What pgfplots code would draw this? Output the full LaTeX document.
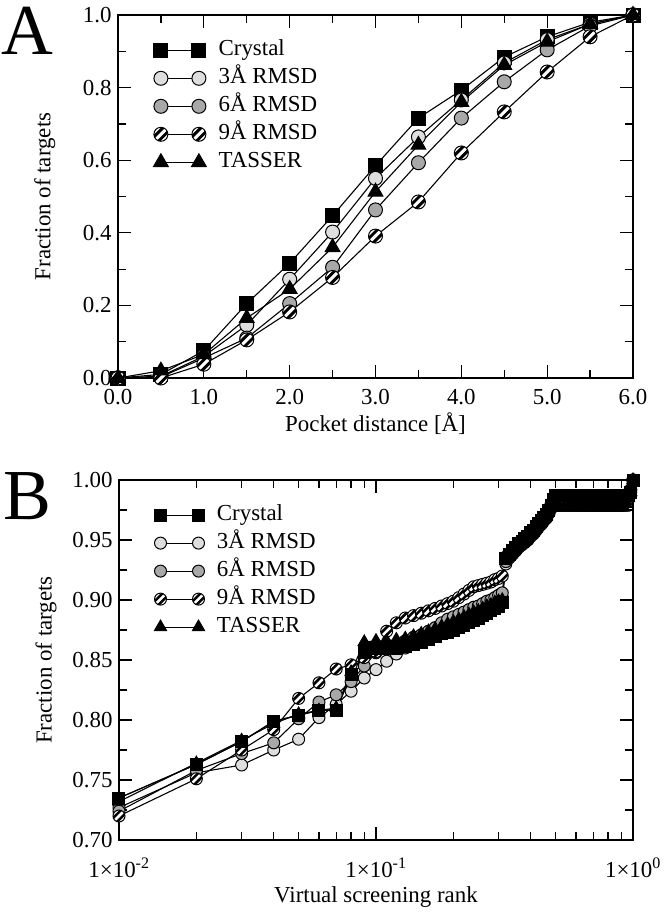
\documentclass[border=0pt]{standalone}
\usepackage{fontspec}
\setmainfont{Liberation Serif}
\usepackage{pgfplots}
\pgfplotsset{compat=1.18}
\usepackage{pgfplotstable}

\pgfdeclareplotmark{hatchcirc}{%
  \begin{pgfscope}%
  \pgfpathcircle{\pgfpointorigin}{\pgfplotmarksize}%
  \pgfsetfillcolor{white}\pgfusepathqfill
  \end{pgfscope}%
  \begin{pgfscope}%
    \pgfpathcircle{\pgfpointorigin}{\pgfplotmarksize}\pgfusepathqclip
    \pgfsetlinewidth{0.42\pgfplotmarksize}%
    \pgfsetbuttcap
    \pgfpathmoveto{\pgfpoint{-1.318\pgfplotmarksize}{-0.682\pgfplotmarksize}}%
    \pgfpathlineto{\pgfpoint{0.682\pgfplotmarksize}{1.318\pgfplotmarksize}}%
    \pgfpathmoveto{\pgfpoint{-0.682\pgfplotmarksize}{-1.318\pgfplotmarksize}}%
    \pgfpathlineto{\pgfpoint{1.318\pgfplotmarksize}{0.682\pgfplotmarksize}}%
    \pgfusepathqstroke
  \end{pgfscope}%
  \pgfpathcircle{\pgfpointorigin}{\pgfplotmarksize}\pgfusepathqstroke
}

\pgfplotstableread{
x C R3 R6 R9 T
0.0 0 0 0 0 0
0.5 0.01 0.005 0.003 0.0 0.02
1.0 0.075 0.06 0.055 0.038 0.065
1.5 0.205 0.146 0.11 0.105 0.165
2.0 0.316 0.272 0.205 0.182 0.245
2.5 0.447 0.402 0.305 0.277 0.36
3.0 0.585 0.55 0.463 0.391 0.513
3.5 0.716 0.664 0.593 0.485 0.642
4.0 0.793 0.766 0.716 0.62 0.76
4.5 0.884 0.868 0.816 0.733 0.862
5.0 0.94 0.932 0.904 0.843 0.926
5.5 0.98 0.975 0.97 0.94 0.975
6.0 1 1 1 1 1
}\dataA

\pgfplotstableread{
x C R3 R6 R9 T
0.01 0.735 0.727 0.724 0.720 0.732
0.02 0.763 0.756 0.758 0.751 0.764
0.03 0.782 0.7625 0.772 0.775 0.783
0.04 0.799 0.775 0.781 0.792 0.797
0.05 0.804 0.784 0.801 0.818 0.805
0.06 0.808 0.802 0.815 0.831 0.808
0.07 0.808 0.813 0.821 0.8425 0.810
0.08 0.838 0.824 0.832 0.846 0.840
0.09 0.856 0.835 0.845 0.852 0.865
0.10 0.860 0.842 0.856 0.857 0.866
0.11 0.860 0.849 0.860 0.874 0.866
0.12 0.860 0.855 0.863 0.881 0.867
0.13 0.861 0.860 0.866 0.885 0.868
0.14 0.863 0.864 0.869 0.887 0.870
0.15 0.865 0.866 0.871 0.889 0.872
0.16 0.867 0.868 0.874 0.891 0.874
0.17 0.870 0.870 0.877 0.893 0.876
0.18 0.872 0.872 0.881 0.895 0.878
0.19 0.873 0.873 0.884 0.897 0.880
0.20 0.875 0.876 0.886 0.899 0.882
0.21 0.877 0.878 0.888 0.902 0.884
0.22 0.879 0.881 0.890 0.905 0.886
0.23 0.881 0.884 0.892 0.908 0.888
0.24 0.883 0.887 0.894 0.911 0.890
0.25 0.885 0.889 0.895 0.912 0.891
0.26 0.887 0.891 0.897 0.913 0.893
0.27 0.889 0.893 0.899 0.914 0.895
0.28 0.891 0.895 0.900 0.915 0.896
0.29 0.893 0.897 0.902 0.917 0.898
0.30 0.895 0.899 0.904 0.918 0.899
0.31 0.898 0.902 0.906 0.920 0.900
0.32 0.935 0.930 0.932 0.936 0.934
0.33 0.938 0.935 0.936 0.939 0.937
0.34 0.941 0.938 0.939 0.942 0.940
0.35 0.944 0.941 0.942 0.945 0.943
0.36 0.947 0.944 0.945 0.948 0.946
0.37 0.949 0.946 0.947 0.950 0.948
0.38 0.951 0.948 0.949 0.952 0.950
0.39 0.953 0.950 0.951 0.954 0.952
0.40 0.956 0.953 0.954 0.957 0.955
0.41 0.958 0.955 0.956 0.959 0.957
0.42 0.961 0.958 0.959 0.962 0.960
0.43 0.964 0.961 0.962 0.965 0.963
0.44 0.966 0.963 0.964 0.967 0.965
0.45 0.969 0.966 0.967 0.970 0.968
0.46 0.971 0.968 0.969 0.972 0.970
0.47 0.975 0.972 0.973 0.976 0.974
0.48 0.979 0.976 0.977 0.980 0.977
0.49 0.984 0.980 0.981 0.984 0.977
0.50 0.9875 0.984 0.982 0.985 0.977
0.52 0.9875 0.984 0.981 0.983 0.977
0.54 0.9875 0.984 0.981 0.983 0.977
0.56 0.9875 0.984 0.981 0.983 0.977
0.58 0.9875 0.984 0.981 0.983 0.977
0.60 0.9875 0.984 0.981 0.983 0.977
0.62 0.9875 0.984 0.981 0.983 0.977
0.64 0.9875 0.984 0.981 0.983 0.977
0.66 0.9875 0.984 0.981 0.983 0.977
0.68 0.9875 0.984 0.981 0.983 0.977
0.70 0.9875 0.984 0.981 0.983 0.977
0.72 0.9875 0.984 0.981 0.983 0.977
0.74 0.9875 0.984 0.981 0.983 0.977
0.76 0.9875 0.984 0.981 0.983 0.977
0.78 0.9875 0.984 0.981 0.983 0.977
0.80 0.9875 0.984 0.981 0.983 0.977
0.82 0.9875 0.984 0.981 0.983 0.977
0.84 0.9875 0.984 0.981 0.983 0.977
0.86 0.9875 0.984 0.981 0.983 0.977
0.88 0.9875 0.984 0.981 0.983 0.977
0.90 0.9875 0.984 0.981 0.983 0.977
0.92 0.9875 0.984 0.980 0.983 0.977
0.94 0.9875 0.986 0.982 0.985 0.980
0.96 0.9875 0.989 0.985 0.988 0.985
0.98 0.990 0.992 0.990 0.992 0.990
1.00 1 1 1 1 1
}\dataB

\definecolor{lightg}{gray}{0.87}
\definecolor{midg}{gray}{0.66}

\pgfplotsset{
  myaxis/.style={
    scale only axis, clip=false,
    axis line style={line width=1.4bp},
    every tick/.style={black, line width=1.2bp},
    major tick length=13bp, minor tick length=8bp,
    tick align=inside,
    font=\fontsize{23}{27}\selectfont,
    tick label style={font=\fontsize{23}{27}\selectfont},
    label style={font=\fontsize{23}{27}\selectfont},
    /pgf/number format/assume math mode=true,
    legend cell align=left,
    legend image code/.code={\draw[##1] plot coordinates {(0bp,0bp) (38bp,0bp)};},
    legend style={draw=none, fill=none, inner sep=0pt, row sep=5bp,
      font=\fontsize{23}{27}\selectfont,
      nodes={inner sep=1.5bp, text height=15bp, text depth=5bp},
      /tikz/every odd column/.append style={column sep=9bp}},
  },
  sC/.style={black, line width=1.1bp, mark=square*, mark options={fill=black, solid, line width=1bp}},
  s3/.style={black, line width=1.1bp, mark=*, mark options={fill=lightg, solid, line width=1bp}},
  s6/.style={black, line width=1.1bp, mark=*, mark options={fill=midg, solid, line width=1bp}},
  s9/.style={black, line width=1.1bp, mark=hatchcirc, mark options={solid, line width=1bp}},
  sT/.style={black, line width=1.1bp, mark=triangle*, mark options={fill=black, solid, line width=1bp}},
}

\begin{document}
\begin{tikzpicture}
\path[use as bounding box] (0,0) rectangle (666bp,-912bp);

\node[font=\fontsize{72}{72}\selectfont, anchor=center] at (27bp,-31bp) {A};
\node[font=\fontsize{72}{72}\selectfont, anchor=center] at (27bp,-496bp) {B};

\begin{axis}[myaxis,
  at={(118bp,-378bp)}, anchor=south west,
  width=515bp, height=363bp,
  xmin=0, xmax=6, ymin=0, ymax=1,
  xtick={0,1,...,6}, ytick={0,0.2,...,1.0},
  minor x tick num=1, minor y tick num=1,
  xticklabel style={yshift=-8bp, /pgf/number format/.cd, fixed, fixed zerofill, precision=1},
  yticklabel style={xshift=-3bp, /pgf/number format/.cd, fixed, fixed zerofill, precision=1},
  xlabel={Pocket distance [Å]}, ylabel={Fraction of targets},
  xlabel style={at={(axis description cs:0.5,-0.126)}, anchor=center},
  ylabel style={at={(axis description cs:-0.142,0.5)}, anchor=center},
  mark size=7bp,
  legend style={at={(axis description cs:0.065,0.935)}, anchor=north west},
]
\addplot[sC] table[x=x,y=C]{\dataA};
\addlegendentry{Crystal}
\addplot[s3] table[x=x,y=R3]{\dataA};
\addlegendentry{3Å RMSD}
\addplot[s6] table[x=x,y=R6]{\dataA};
\addlegendentry{6Å RMSD}
\addplot[s9] table[x=x,y=R9]{\dataA};
\addlegendentry{9Å RMSD}
\addplot[sT, mark size=8.5bp] table[x=x,y=T]{\dataA};
\addlegendentry{TASSER}
\end{axis}

\begin{axis}[myaxis,
  at={(119bp,-840bp)}, anchor=south west,
  width=514bp, height=360bp,
  xmode=log, xmin=0.01, xmax=1, ymin=0.70, ymax=1.00,
  xtick={0.01,0.1,1},
  xticklabels={1×10\textsuperscript{-2}, 1×10\textsuperscript{-1}, 1×10\textsuperscript{0}},
  xticklabel style={yshift=-14bp},
  minor xtick={0.02,0.03,0.04,0.05,0.06,0.07,0.08,0.09,0.2,0.3,0.4,0.5,0.6,0.7,0.8,0.9},
  ytick={0.70,0.75,...,1.001}, minor y tick num=1,
  yticklabel style={xshift=-3bp, /pgf/number format/.cd, fixed, fixed zerofill, precision=2},
  xlabel={Virtual screening rank}, ylabel={Fraction of targets},
  xlabel style={at={(axis description cs:0.5,-0.158)}, anchor=center},
  ylabel style={at={(axis description cs:-0.142,0.5)}, anchor=center},
  mark size=6bp,
  legend style={at={(axis description cs:0.065,0.935)}, anchor=north west},
]
\addplot[sC] table[x=x,y=C]{\dataB};
\addlegendentry{Crystal}
\addplot[s3] table[x=x,y=R3]{\dataB};
\addlegendentry{3Å RMSD}
\addplot[s6] table[x=x,y=R6]{\dataB};
\addlegendentry{6Å RMSD}
\addplot[s9] table[x=x,y=R9]{\dataB};
\addlegendentry{9Å RMSD}
\addplot[sT, mark size=7bp] table[x=x,y=T]{\dataB};
\addlegendentry{TASSER}
\addplot[sC, forget plot] table[x=x,y=C]{\dataB};
\end{axis}
\end{tikzpicture}
\end{document}
